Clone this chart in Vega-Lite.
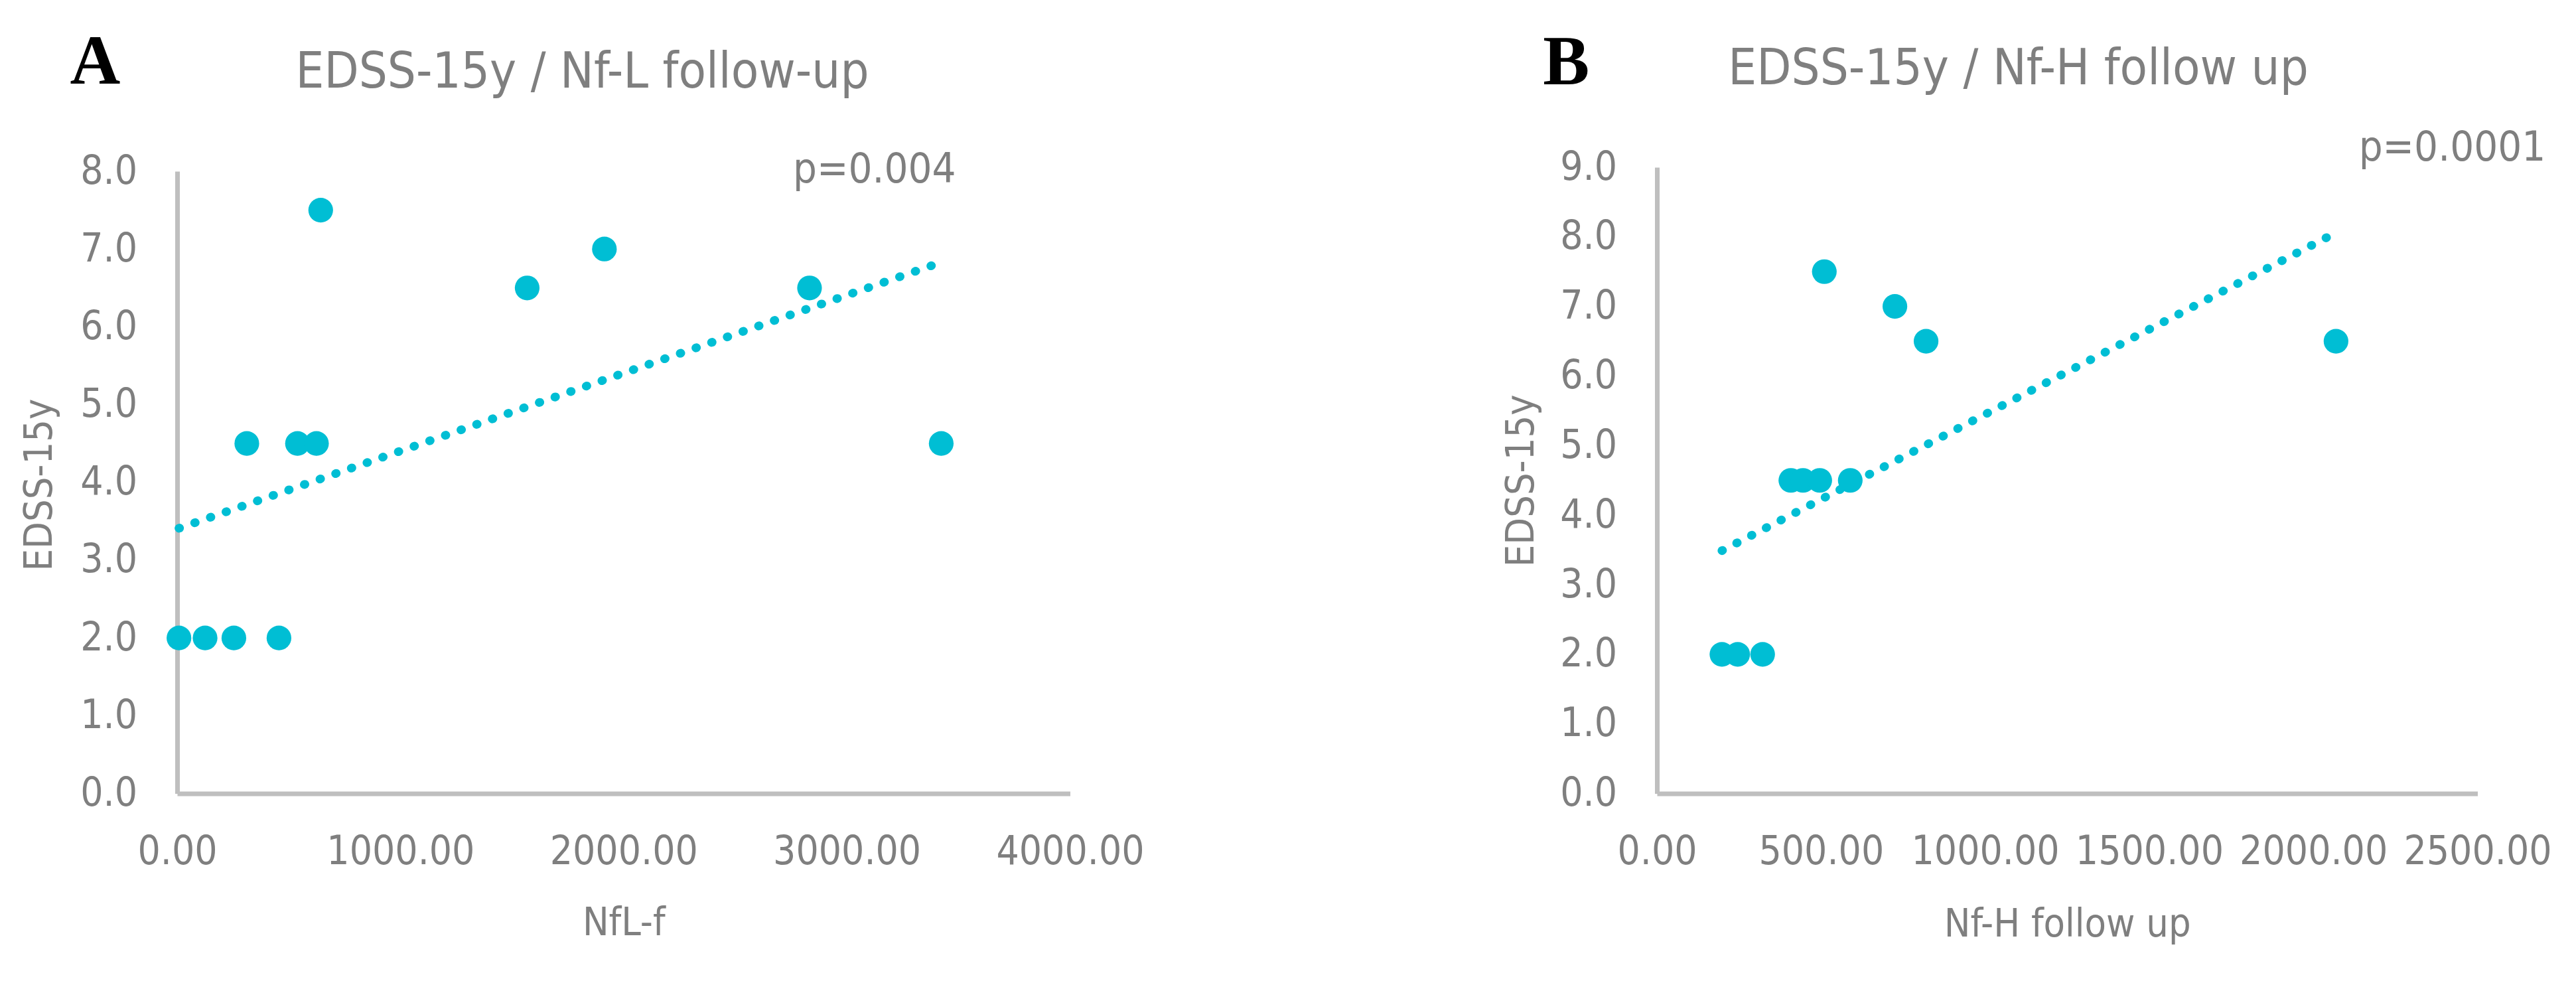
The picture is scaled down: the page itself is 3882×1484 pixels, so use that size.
{
  "$schema": "https://vega.github.io/schema/vega-lite/v6.json",
  "background": "white",
  "padding": {"left": 30, "top": 42, "right": 20, "bottom": 40},
  "spacing": 538,
  "config": {
    "view": {"stroke": null},
    "axis": {
      "grid": false, "ticks": false, "tickSize": 0,
      "domainColor": "#BFBFBF", "domainWidth": 7,
      "labelColor": "#7F7F7F", "labelFont": "DejaVu Sans Condensed, Liberation Sans, sans-serif", "labelFontSize": 60,
      "titleColor": "#7F7F7F", "titleFont": "DejaVu Sans Condensed, Liberation Sans, sans-serif", "titleFontSize": 59, "titleFontWeight": "normal",
      "labelOverlap": false, "labelFlush": false, "labelLimit": 0, "titleLimit": 0
    }
  },
  "datasets": {
    "ptsA": [
      {"x": 8, "y": 2.0}, {"x": 125, "y": 2.0}, {"x": 254, "y": 2.0}, {"x": 456, "y": 2.0},
      {"x": 312, "y": 4.5}, {"x": 539, "y": 4.5}, {"x": 624, "y": 4.5}, {"x": 3423, "y": 4.5},
      {"x": 643, "y": 7.5}, {"x": 1568, "y": 6.5}, {"x": 1914, "y": 7.0}, {"x": 2833, "y": 6.5}
    ],
    "trendA": [{"x": 8, "y": 3.41}, {"x": 3423, "y": 6.83}],
    "letterA": [{"x": -480, "y": 9.126, "label": "A"}],
    "titleA": [{"x": 1815, "y": 9.071, "label": "EDSS-15y / Nf-L follow-up"}],
    "pA": [{"x": 3489, "y": 7.857, "label": "p=0.004"}],
    "ptsB": [
      {"x": 198, "y": 2.0}, {"x": 246, "y": 2.0}, {"x": 322, "y": 2.0},
      {"x": 408, "y": 4.5}, {"x": 445, "y": 4.5}, {"x": 496, "y": 4.5}, {"x": 589, "y": 4.5},
      {"x": 510, "y": 7.5}, {"x": 725, "y": 7.0}, {"x": 820, "y": 6.5}, {"x": 2069, "y": 6.5}
    ],
    "trendB": [{"x": 198, "y": 3.49}, {"x": 2069, "y": 8.06}],
    "letterB": [{"x": -347, "y": 10.197, "label": "B"}],
    "titleB": [{"x": 1101, "y": 10.197, "label": "EDSS-15y / Nf-H follow up"}],
    "pB": [{"x": 2708, "y": 9.093, "label": "p=0.0001"}]
  },
  "hconcat": [
    {
      "width": 1345.5,
      "height": 943.5,
      "encoding": {
        "x": {"field": "x", "type": "quantitative",
          "scale": {"domain": [0, 4000], "nice": false, "zero": false},
          "axis": {"values": [0, 1000, 2000, 3000, 4000], "format": ".2f", "title": "NfL-f",
            "labelPadding": 106, "labelBaseline": "alphabetic", "titleBaseline": "alphabetic", "titleY": 213}},
        "y": {"field": "y", "type": "quantitative",
          "scale": {"domain": [0, 8], "range": [943.5, 6], "nice": false, "zero": false},
          "axis": {"values": [0, 1, 2, 3, 4, 5, 6, 7, 8], "format": ".1f", "title": "EDSS-15y",
            "labelPadding": 60.5, "titleBaseline": "alphabetic", "titleX": -189.5, "titleY": 478}}
      },
      "layer": [
        {"data": {"name": "ptsA"}, "mark": {"type": "circle", "size": 1385, "color": "#00BED4", "opacity": 1}},
        {"data": {"name": "trendA"}, "mark": {"type": "line", "color": "#00BED4", "strokeWidth": 13, "strokeCap": "round", "strokeDash": [1, 24]}, "encoding": {}},
        {"data": {"name": "letterA"}, "mark": {"type": "text", "font": "Liberation Serif, serif", "fontWeight": "bold", "fontSize": 105, "color": "black", "align": "left", "baseline": "alphabetic"}, "encoding": {"text": {"field": "label"}}},
        {"data": {"name": "titleA"}, "mark": {"type": "text", "font": "DejaVu Sans Condensed, Liberation Sans, sans-serif", "fontSize": 75.5, "color": "#7F7F7F", "align": "center", "baseline": "alphabetic"}, "encoding": {"text": {"field": "label"}}},
        {"data": {"name": "pA"}, "mark": {"type": "text", "font": "DejaVu Sans Condensed, Liberation Sans, sans-serif", "fontSize": 63, "color": "#7F7F7F", "align": "right", "baseline": "alphabetic"}, "encoding": {"text": {"field": "label"}}}
      ]
    },
    {
      "width": 1236.5,
      "height": 943.5,
      "encoding": {
        "x": {"field": "x", "type": "quantitative",
          "scale": {"domain": [0, 2500], "nice": false, "zero": false},
          "axis": {"values": [0, 500, 1000, 1500, 2000, 2500], "format": ".2f", "title": "Nf-H follow up",
            "labelPadding": 106, "labelBaseline": "alphabetic", "titleBaseline": "alphabetic", "titleY": 215}},
        "y": {"field": "y", "type": "quantitative",
          "scale": {"domain": [0, 9], "nice": false, "zero": false},
          "axis": {"values": [0, 1, 2, 3, 4, 5, 6, 7, 8, 9], "format": ".1f", "title": "EDSS-15y",
            "labelPadding": 60.5, "titleBaseline": "alphabetic", "titleX": -187}}
      },
      "layer": [
        {"data": {"name": "ptsB"}, "mark": {"type": "circle", "size": 1385, "color": "#00BED4", "opacity": 1}},
        {"data": {"name": "trendB"}, "mark": {"type": "line", "color": "#00BED4", "strokeWidth": 13, "strokeCap": "round", "strokeDash": [1, 24]}, "encoding": {}},
        {"data": {"name": "letterB"}, "mark": {"type": "text", "font": "Liberation Serif, serif", "fontWeight": "bold", "fontSize": 105, "color": "black", "align": "left", "baseline": "alphabetic"}, "encoding": {"text": {"field": "label"}}},
        {"data": {"name": "titleB"}, "mark": {"type": "text", "font": "DejaVu Sans Condensed, Liberation Sans, sans-serif", "fontSize": 75.5, "color": "#7F7F7F", "align": "center", "baseline": "alphabetic"}, "encoding": {"text": {"field": "label"}}},
        {"data": {"name": "pB"}, "mark": {"type": "text", "font": "DejaVu Sans Condensed, Liberation Sans, sans-serif", "fontSize": 63, "color": "#7F7F7F", "align": "right", "baseline": "alphabetic"}, "encoding": {"text": {"field": "label"}}}
      ]
    }
  ]
}
